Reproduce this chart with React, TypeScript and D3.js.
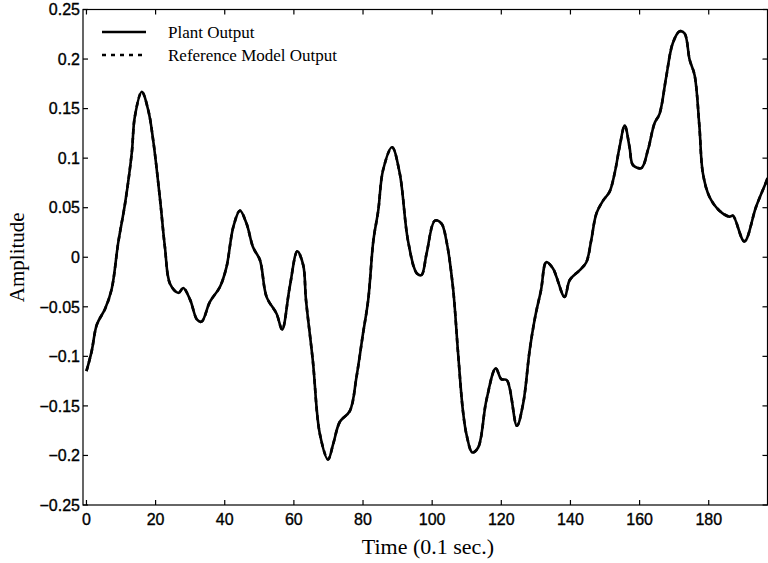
import React from "react";
import * as d3 from "d3";

const timeValues = [0, 1.5, 3, 5.4, 7.3, 9.2, 11.2, 13.1, 14, 16, 17.9, 19.3, 21.3, 22.7, 24.2, 26.6, 28, 30, 32, 33.3, 35.7, 38.6, 40.5, 42.5, 44.4, 46.3, 48.2, 50.2, 52.1, 55, 56.6, 58.8, 61, 62.7, 63.5, 65.5, 67.5, 69.9, 71.4, 73.3, 76.2, 78.1, 80, 81.5, 83, 84.4, 85.8, 88.4, 90.6, 93, 95.5, 96.9, 98.4, 100.8, 102.7, 104.1, 106, 107.5, 108.9, 110, 111.6, 113.3, 115.7, 118.4, 120, 121.6, 124.5, 126.3, 128.2, 129.8, 131.5, 133, 134.9, 138.3, 139.8, 142.7, 144.6, 146, 147.5, 149.4, 151.3, 152.8, 154.2, 155.7, 157.1, 158.1, 160.5, 162.4, 164.3, 165.8, 167.7, 169.6, 171.6, 173, 174.5, 175.9, 177.3, 178.3, 180.2, 183.1, 186, 187, 190.3, 193.7, 196.6, 197];

const plantOutput = [-0.115, -0.095, -0.068, -0.052, -0.032, 0.015, 0.055, 0.105, 0.142, 0.167, 0.148, 0.118, 0.058, 0.01, -0.027, -0.036, -0.031, -0.043, -0.063, -0.065, -0.045, -0.03, -0.01, 0.031, 0.047, 0.034, 0.01, -0.003, -0.04, -0.057, -0.073, -0.03, 0.006, -0.008, -0.043, -0.105, -0.178, -0.204, -0.188, -0.166, -0.155, -0.121, -0.077, -0.043, 0.017, 0.047, 0.088, 0.111, 0.085, 0.017, -0.016, -0.018, 0.004, 0.037, 0.034, 0.017, -0.03, -0.097, -0.155, -0.18, -0.197, -0.192, -0.144, -0.112, -0.123, -0.124, -0.17, -0.148, -0.094, -0.06, -0.033, -0.005, -0.011, -0.04, -0.023, -0.013, -0.005, 0.017, 0.044, 0.057, 0.066, 0.085, 0.111, 0.133, 0.111, 0.093, 0.09, 0.108, 0.135, 0.145, 0.182, 0.216, 0.228, 0.226, 0.199, 0.184, 0.132, 0.085, 0.061, 0.047, 0.041, 0.042, 0.016, 0.051, 0.076, 0.08];

// Reference model output overlaps the plant output in the figure
const referenceOutput = plantOutput;

const xTicks = [0, 20, 40, 60, 80, 100, 120, 140, 160, 180];
const yTicks = [-0.25, -0.2, -0.15, -0.1, -0.05, 0, 0.05, 0.1, 0.15, 0.2, 0.25];
const yTickLabels = ["\u22120.25", "\u22120.2", "\u22120.15", "\u22120.1", "\u22120.05", "0", "0.05", "0.1", "0.15", "0.2", "0.25"];
const legendLabels = ["Plant Output", "Reference Model Output"];

const W = 768;
const H = 563;
const left = 83;
const right = 767.5;
const top = 9.5;
const bottom = 505;

export default function App() {
  const x = d3.scaleLinear().domain([-1, 197]).range([left, right]);
  const y = d3.scaleLinear().domain([-0.25, 0.25]).range([bottom, top]);

  const line = d3
    .line<number>()
    .x((_, i) => x(timeValues[i]))
    .y((d) => y(d))
    .curve(d3.curveCatmullRom.alpha(0.5));

  const tickFont = "'Liberation Sans', Arial, sans-serif";
  const serif = "'Liberation Serif', 'Times New Roman', serif";

  return (
    <svg
      width={W}
      height={H}
      style={{ position: "absolute", left: 0, top: 0, background: "#fff" }}
    >
      <defs>
        <clipPath id="plotClip">
          <rect x={left} y={top} width={right - left} height={bottom - top} />
        </clipPath>
      </defs>
      <rect x={0} y={0} width={W} height={H} fill="#fff" />

      {/* frame */}
      <rect
        x={left}
        y={top}
        width={right - left}
        height={bottom - top}
        fill="none"
        stroke="#000"
        strokeWidth={1.2}
      />

      {/* y ticks */}
      {yTicks.map((t, i) => (
        <g key={"y" + t}>
          <line x1={left} x2={left + 5} y1={y(t)} y2={y(t)} stroke="#000" strokeWidth={1.2} />
          <line x1={right} x2={right - 5} y1={y(t)} y2={y(t)} stroke="#000" strokeWidth={1.2} />
          <text
            x={left - 3}
            y={y(t)}
            dy="0.36em"
            textAnchor="end"
            fontFamily={tickFont}
            fontSize={16}
            stroke="#000"
            strokeWidth={0.35}
            fill="#000"
          >
            {yTickLabels[i]}
          </text>
        </g>
      ))}

      {/* x ticks */}
      {xTicks.map((t) => (
        <g key={"x" + t}>
          <line x1={x(t)} x2={x(t)} y1={bottom} y2={bottom - 5} stroke="#000" strokeWidth={1.2} />
          <line x1={x(t)} x2={x(t)} y1={top} y2={top + 5} stroke="#000" strokeWidth={1.2} />
          <text
            x={x(t)}
            y={bottom + 20}
            textAnchor="middle"
            fontFamily={tickFont}
            fontSize={16}
            stroke="#000"
            strokeWidth={0.35}
            fill="#000"
          >
            {t}
          </text>
        </g>
      ))}

      {/* series */}
      <g clipPath="url(#plotClip)">
        <path
          d={line(referenceOutput) || ""}
          fill="none"
          stroke="#000"
          strokeWidth={2.6}
          strokeDasharray="5,4"
        />
        <path d={line(plantOutput) || ""} fill="none" stroke="#000" strokeWidth={2.6} />
      </g>

      {/* legend */}
      <line x1={102} x2={146} y1={32} y2={32} stroke="#000" strokeWidth={2.6} />
      <text x={168} y={38} fontFamily={serif} fontSize={17} fill="#000">
        {legendLabels[0]}
      </text>
      <line
        x1={102}
        x2={146}
        y1={55}
        y2={55}
        stroke="#000"
        strokeWidth={2.6}
        strokeDasharray="4,5"
      />
      <text x={168} y={61} fontFamily={serif} fontSize={17} fill="#000">
        {legendLabels[1]}
      </text>

      {/* axis titles */}
      <text
        x={428}
        y={554}
        textAnchor="middle"
        fontFamily={serif}
        fontSize={22}
        fill="#000"
      >
        Time (0.1 sec.)
      </text>
      <text
        transform={`translate(24, ${y(0)}) rotate(-90)`}
        textAnchor="middle"
        fontFamily={serif}
        fontSize={21}
        fill="#000"
      >
        Amplitude
      </text>
    </svg>
  );
}
